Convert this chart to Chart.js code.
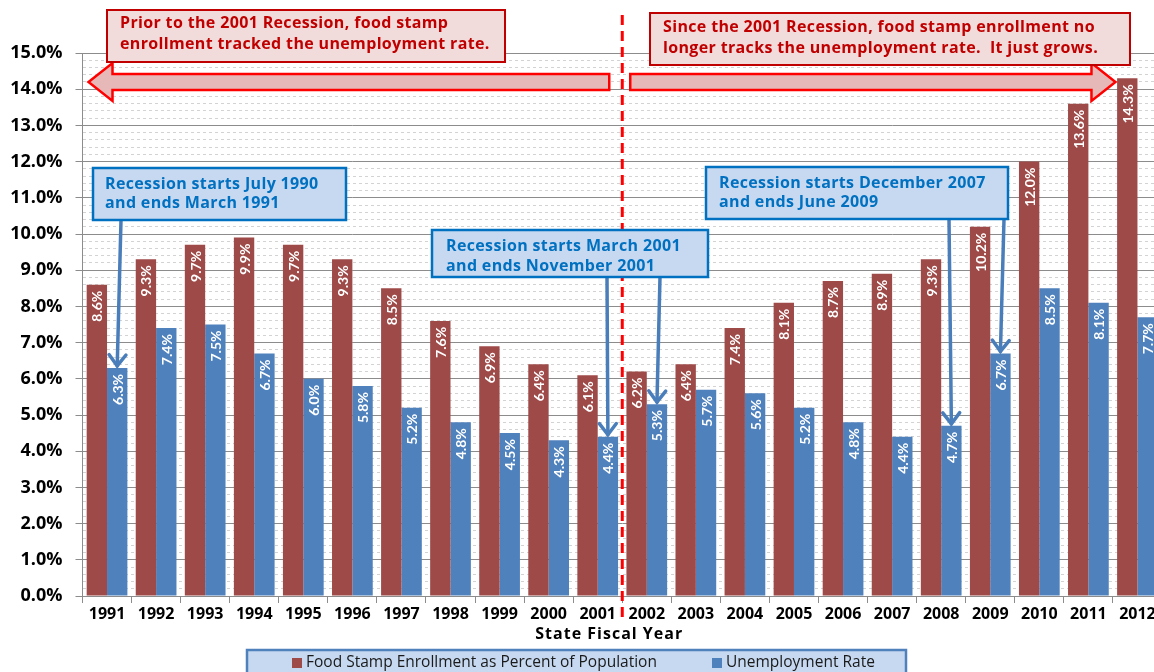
<!DOCTYPE html>
<html>
<head>
<meta charset="utf-8">
<script src="https://cdn.jsdelivr.net/npm/chart.js@4/dist/chart.umd.min.js"></script>
<style>
  html, body { margin: 0; padding: 0; background: #ffffff; overflow: hidden; width: 1154px; height: 672px; }
  #wrap { position: absolute; left: 0; top: 0; width: 1172px; height: 672px; }
</style>
</head>
<body>
<div id="wrap"><canvas id="c" width="1172" height="672"></canvas></div>
<script>
// ---- Data ----
const years = ['1991','1992','1993','1994','1995','1996','1997','1998','1999','2000','2001',
               '2002','2003','2004','2005','2006','2007','2008','2009','2010','2011','2012'];
const foodStampPct = [8.6, 9.3, 9.7, 9.9, 9.7, 9.3, 8.5, 7.6, 6.9, 6.4, 6.1,
                      6.2, 6.4, 7.4, 8.1, 8.7, 8.9, 9.3, 10.2, 12.0, 13.6, 14.3];
const unemploymentPct = [6.3, 7.4, 7.5, 6.7, 6.0, 5.8, 5.2, 4.8, 4.5, 4.3, 4.4,
                         5.3, 5.7, 5.6, 5.2, 4.8, 4.4, 4.7, 6.7, 8.5, 8.1, 7.7];
const seriesNames = ['Food Stamp Enrollment as Percent of Population', 'Unemployment Rate'];
const yMin = 0, yMax = 15, yMinorStep = 0.2;
const xTitle = 'State Fiscal Year';

// ---- Annotation texts ----
const redNotes = [
  { lines: ['Prior to the 2001 Recession, food stamp', 'enrollment tracked the unemployment rate.'] },
  { lines: ['Since the 2001 Recession, food stamp enrollment no', 'longer tracks the unemployment rate.  It just grows.'] }
];
const recessionNotes = [
  { lines: ['Recession starts July 1990', 'and ends March 1991'], targets: ['1991'] },
  { lines: ['Recession starts March 2001', 'and ends November 2001'], targets: ['2001', '2002'] },
  { lines: ['Recession starts December 2007', 'and ends June 2009'], targets: ['2008', '2009'] }
];
const dividerAfter = '2001';

// ---- Layout / styles (not data) ----
const FONT = '"Open Sans", Lato, "DejaVu Sans", sans-serif';
const LABEL_FONT = 'Lato, "Open Sans", sans-serif';
const RED_BAR = '#9e4a48';
const BLUE_BAR = '#4f81bd';
const redBoxes = [
  { x: 107, y: 10, w: 398, h: 52, tx: 120, ty: [23, 44] },
  { x: 650, y: 13, w: 480, h: 52, tx: 663, ty: [27, 48] }
];
const blueBoxes = [
  { x: 93, y: 168, w: 253, h: 52, tx: 105, ty: [184, 203], starts: [121] },
  { x: 432, y: 230, w: 276, h: 47, tx: 446, ty: [246, 266], starts: [607, 660] },
  { x: 706, y: 167, w: 302, h: 52, tx: 719, ty: [183, 202], starts: [949, 1004] }
];

function isMajor(v) { return Math.abs(v - Math.round(v)) < 1e-6; }

const annotationPlugin = {
  id: 'annotations',
  afterDatasetsDraw(chart) {
    const ctx = chart.ctx;
    // data labels inside bars (rotated)
    chart.data.datasets.forEach((ds, di) => {
      const meta = chart.getDatasetMeta(di);
      meta.data.forEach((el, i) => {
        const v = ds.data[i];
        ctx.save();
        ctx.translate(el.x, el.y + 6);
        ctx.rotate(-Math.PI / 2);
        ctx.fillStyle = '#ffffff';
        ctx.font = 'bold 14px ' + LABEL_FONT;
        ctx.textAlign = 'right';
        ctx.textBaseline = 'middle';
        ctx.fillText(v.toFixed(1) + '%', 0, 1);
        ctx.restore();
      });
    });
  },
  afterDraw(chart) {
    const ctx = chart.ctx;
    const xs = chart.scales.x, ys = chart.scales.y;
    const area = chart.chartArea;

    // dashed divider between 2001 and 2002
    const di = years.indexOf(dividerAfter);
    const dx = (xs.getPixelForValue(di) + xs.getPixelForValue(di + 1)) / 2;
    ctx.save();
    ctx.strokeStyle = '#ff0000';
    ctx.lineWidth = 3;
    ctx.setLineDash([10, 6]);
    ctx.beginPath();
    ctx.moveTo(dx, 15);
    ctx.lineTo(dx, area.bottom + 26);
    ctx.stroke();
    ctx.restore();

    // big pink arrows
    const ay = ys.getPixelForValue(14.2);
    function bigArrow(x0, x1) { // x1 = tip
      const dir = Math.sign(x1 - x0);
      const sh = 8, hh = 19, hl = 24;
      const base = x1 - dir * hl;
      ctx.beginPath();
      ctx.moveTo(x0, ay - sh);
      ctx.lineTo(base, ay - sh);
      ctx.lineTo(base, ay - hh);
      ctx.lineTo(x1, ay);
      ctx.lineTo(base, ay + hh);
      ctx.lineTo(base, ay + sh);
      ctx.lineTo(x0, ay + sh);
      ctx.closePath();
      ctx.fillStyle = '#e6b9b8';
      ctx.fill();
      ctx.lineWidth = 2.5;
      ctx.strokeStyle = '#ff0000';
      ctx.lineJoin = 'miter';
      ctx.stroke();
    }
    ctx.save();
    bigArrow(dx - 13, area.left + 6);
    bigArrow(dx + 8, xs.getPixelForValue(years.length - 1) - 22);
    ctx.restore();

    // red text boxes
    redNotes.forEach((n, k) => {
      const b = redBoxes[k];
      ctx.save();
      ctx.fillStyle = '#f2dcdb';
      ctx.fillRect(b.x, b.y, b.w, b.h);
      ctx.strokeStyle = '#c00000';
      ctx.lineWidth = 2;
      ctx.strokeRect(b.x, b.y, b.w, b.h);
      ctx.fillStyle = '#c00000';
      ctx.font = 'bold 16px ' + FONT;
      ctx.letterSpacing = '0.35px';
      ctx.textAlign = 'left';
      ctx.textBaseline = 'middle';
      n.lines.forEach((t, j) => ctx.fillText(t, b.tx, b.ty[j]));
      ctx.restore();
    });

    // blue recession callouts with arrows to unemployment bars
    const blueMeta = chart.getDatasetMeta(1);
    recessionNotes.forEach((n, k) => {
      const b = blueBoxes[k];
      ctx.save();
      ctx.strokeStyle = '#4a7ebb';
      ctx.lineWidth = 3.5;
      ctx.lineCap = 'round';
      n.targets.forEach((yr, j) => {
        const idx = years.indexOf(yr);
        const el = blueMeta.data[idx];
        const tx = el.x, ty = el.y - 2;
        const sx = b.starts[j], sy = b.y + b.h;
        ctx.beginPath();
        ctx.moveTo(sx, sy);
        ctx.lineTo(tx, ty);
        ctx.stroke();
        const ang = Math.atan2(ty - sy, tx - sx);
        const hl = 14, hw = 0.65;
        ctx.beginPath();
        ctx.moveTo(tx - hl * Math.cos(ang - hw), ty - hl * Math.sin(ang - hw));
        ctx.lineTo(tx, ty);
        ctx.lineTo(tx - hl * Math.cos(ang + hw), ty - hl * Math.sin(ang + hw));
        ctx.stroke();
      });
      ctx.fillStyle = '#c6d9f1';
      ctx.fillRect(b.x, b.y, b.w, b.h);
      ctx.strokeStyle = '#0070c0';
      ctx.lineWidth = 2.5;
      ctx.strokeRect(b.x, b.y, b.w, b.h);
      ctx.fillStyle = '#0070c0';
      ctx.font = 'bold 16px ' + FONT;
      ctx.letterSpacing = '0.35px';
      ctx.textAlign = 'left';
      ctx.textBaseline = 'middle';
      n.lines.forEach((t, j) => ctx.fillText(t, b.tx, b.ty[j]));
      ctx.restore();
    });

    // custom legend box
    ctx.save();
    ctx.fillStyle = '#c6d9f1';
    ctx.fillRect(247, 650, 659, 34);
    ctx.strokeStyle = '#4f81bd';
    ctx.lineWidth = 2.5;
    ctx.strokeRect(247, 650, 659, 34);
    const legendX = [292, 712];
    ctx.font = '15.5px ' + FONT;
    ctx.textBaseline = 'middle';
    ctx.textAlign = 'left';
    chart.data.datasets.forEach((ds, i) => {
      ctx.fillStyle = ds.backgroundColor;
      ctx.fillRect(legendX[i], 658, 10, 10);
      ctx.fillStyle = '#1a1a1a';
      ctx.fillText(ds.label, legendX[i] + 14, 663);
    });
    ctx.restore();

    // x-axis title
    ctx.save();
    ctx.fillStyle = '#000';
    ctx.font = 'bold 16px ' + FONT;
    ctx.letterSpacing = '1px';
    ctx.textAlign = 'center';
    ctx.textBaseline = 'middle';
    ctx.fillText(xTitle, (xs.getPixelForValue(10) + xs.getPixelForValue(11)) / 2 - 13, area.bottom + 38);
    ctx.restore();
  }
};

new Chart(document.getElementById('c'), {
  type: 'bar',
  data: {
    labels: years,
    datasets: [
      { label: seriesNames[0], data: foodStampPct, backgroundColor: RED_BAR,
        categoryPercentage: 0.83, barPercentage: 1.0 },
      { label: seriesNames[1], data: unemploymentPct, backgroundColor: BLUE_BAR,
        categoryPercentage: 0.83, barPercentage: 1.0 }
    ]
  },
  options: {
    responsive: false,
    animation: false,
    devicePixelRatio: 1,
    layout: { padding: { top: 53, left: 0, right: 10, bottom: 0 } },
    plugins: { legend: { display: false }, tooltip: { enabled: false } },
    scales: {
      y: {
        min: yMin, max: yMax,
        afterFit(scale) { scale.width = 82.5; },
        ticks: {
          stepSize: yMinorStep,
          autoSkip: false,
          padding: 13,
          color: '#000',
          font: { family: FONT, size: 18, weight: 'bold' },
          callback: (v) => isMajor(v) ? v.toFixed(1) + '%' : ''
        },
        grid: {
          color: (c) => (c.tick && isMajor(c.tick.value)) ? '#8c8c8c' : '#d3d3d3',
          tickColor: (c) => (c.tick && isMajor(c.tick.value)) ? '#8c8c8c' : 'rgba(0,0,0,0)',
          tickLength: 7,
          lineWidth: 1
        },
        border: {
          color: '#8c8c8c',
          dash: (c) => (c.tick && !isMajor(c.tick.value)) ? [3, 3] : []
        }
      },
      x: {
        offset: true,
        afterFit(scale) { scale.height = 76; },
        grid: { offset: true, drawOnChartArea: false, color: '#8c8c8c', tickLength: 7 },
        border: { color: '#8c8c8c' },
        ticks: { color: '#000', padding: 2, maxRotation: 0, autoSkip: false,
                 font: { family: FONT, size: 16, weight: 'bold' } },
        title: { display: false }
      }
    }
  },
  plugins: [annotationPlugin]
});
</script>
</body>
</html>
